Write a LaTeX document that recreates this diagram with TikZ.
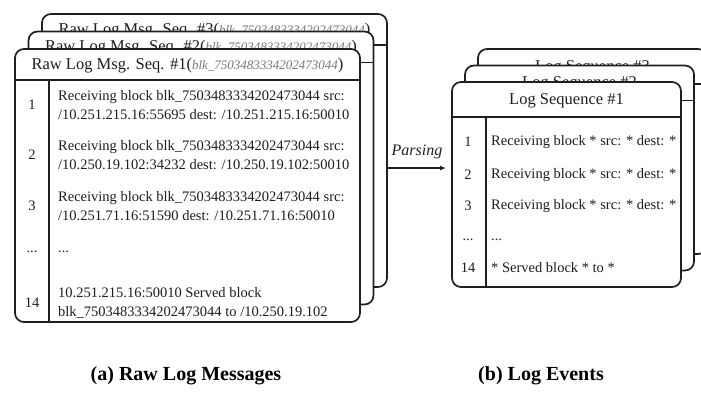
\documentclass[tikz,border=0pt]{standalone}
\usepackage{fontspec}
\setmainfont{Liberation Serif}
\usetikzlibrary{arrows.meta}
\definecolor{ink}{RGB}{30,30,35}
\definecolor{idgray}{RGB}{120,120,130}

% one card of a stack: name, left, top, width, height, header height, title
\newcommand\stackcard[7]{%
  \node[card, minimum width=#4pt, minimum height=#5pt, anchor=north west] (#1) at (#2,#3) {};
  \draw[rule] ([yshift=-#6pt]#1.north west) -- ([yshift=-#6pt]#1.north east);
  \draw[rule] ([xshift=34pt,yshift=-#6pt]#1.north west) -- ([xshift=34pt]#1.south west);
  \node[titletext] at ([yshift=-#6pt/2-1pt]#1.north) {#7};
}

\begin{document}
\begin{tikzpicture}[x=1pt,y=-1pt,
  card/.style={draw=ink, line width=1.7pt, fill=white, rounded corners=9pt, inner sep=0pt, outer sep=0pt},
  rule/.style={draw=ink, line width=1.7pt},
  titletext/.style={font=\fontsize{16.5}{19}\selectfont, text=ink, inner sep=0pt},
  body/.style={font=\fontsize{14.5}{19}\selectfont, text=ink, inner sep=0pt, anchor=west, align=left},
  num/.style={font=\fontsize{14.5}{19}\selectfont, text=ink, inner sep=0pt},
  caption/.style={font=\fontsize{20}{24}\bfseries, text=black, inner sep=0pt},
  flow/.style={draw=ink, line width=1.3pt, -{Latex[length=6pt,width=5pt]}}
]
\useasboundingbox (0,0) rectangle (701,399);
\clip (0,0) rectangle (701,399);

% raw log message stack, back to front
\stackcard{lback}{42}{14}{345}{273}{31}{Raw Log Msg. Seq. \#3({\color{idgray}\fontsize{13}{15}\itshape blk\_7503483334202473044})}
\stackcard{lmid}{28.5}{31.5}{345}{273}{31}{Raw Log Msg. Seq. \#2({\color{idgray}\fontsize{13}{15}\itshape blk\_7503483334202473044})}
\stackcard{lfront}{15}{49}{345}{273}{31}{Raw Log Msg. Seq. \#1({\color{idgray}\fontsize{13}{15}\itshape blk\_7503483334202473044})}

\node[num] (ln1) at (32,105) {1};
\node[num] (ln2) at (32,155) {2};
\node[num] (ln3) at (32,206) {3};
\node[num] (lnd) at (32,252) {...};
\node[num] (ln14) at (32,303) {14};

\node[body] (lm1) at (58,105) {Receiving block blk\_7503483334202473044 src:\\/10.251.215.16:55695 dest: /10.251.215.16:50010};
\node[body] (lm2) at (58,155) {Receiving block blk\_7503483334202473044 src:\\/10.250.19.102:34232 dest: /10.250.19.102:50010};
\node[body] (lm3) at (58,206) {Receiving block blk\_7503483334202473044 src:\\/10.251.71.16:51590 dest: /10.251.71.16:50010};
\node[body] (lmd) at (58,252) {...};
\node[body] (lm14) at (58,303) {10.251.215.16:50010 Served block\\blk\_7503483334202473044 to /10.250.19.102};

% log event stack, back to front
\stackcard{rback}{478}{49}{229}{205}{35}{Log Sequence \#3}
\stackcard{rmid}{465}{65.5}{229}{205}{35}{Log Sequence \#2}
\stackcard{rfront}{452}{82}{229}{205}{35}{Log Sequence \#1}

\node[num] (rn1) at (468,142) {1};
\node[num] (rn2) at (468,175) {2};
\node[num] (rn3) at (468,206) {3};
\node[num] (rnd) at (468,240) {...};
\node[num] (rn14) at (468,268) {14};

\node[body] (re1) at (491,142) {Receiving block * src: * dest: *};
\node[body] (re2) at (491,175) {Receiving block * src: * dest: *};
\node[body] (re3) at (491,206) {Receiving block * src: * dest: *};
\node[body] (red) at (491,240) {...};
\node[body] (re14) at (491,268) {* Served block * to *};

% parsing step
\coordinate (flowy) at (0,168);
\draw[flow, shorten >=6pt] (lback.east |- flowy) -- (rfront.west |- flowy);
\node[font=\fontsize{16}{19}\itshape, text=ink, inner sep=0pt] (parse) at (417,152) {Parsing};

% sub-captions
\node[caption] (capa) at (186,376) {(a) Raw Log Messages};
\node[caption] (capb) at (541,376) {(b) Log Events};
\end{tikzpicture}
\end{document}
